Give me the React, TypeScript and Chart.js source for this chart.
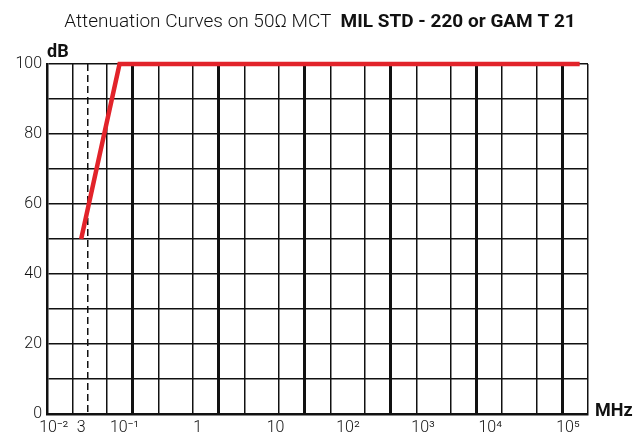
import React, { useEffect, useRef } from 'react';
import { Chart, registerables } from 'chart.js';

Chart.register(...registerables);

// ---- data ----
const curveFreqMHz = [0.025, 0.07, 16000];
const curveDb = [50, 100, 100];

const gridFreqMHz = [
  0.01, 0.02, 0.03, 0.05, 0.1, 0.2, 0.5, 1, 2, 5, 10, 20, 50, 100, 200, 500,
  1000, 2000, 5000, 10000, 20000,
];
const dashedFreqMHz = 0.03;

const xTickLabels = ['10⁻²', '3', '10⁻¹', '1', '10', '10²', '10³', '10⁴', '10⁵'];
const xTickLabelFreqMHz = [0.012, 0.025, 0.08, 0.57, 4.6, 32, 240, 1450, 11700];

const yMin = 0;
const yMax = 100;
const yGridStep = 10;
const yLabelStep = 20;

const titleLight = 'Attenuation Curves on 50Ω MCT';
const titleBold = 'MIL STD - 220 or GAM T 21';
const yUnit = 'dB';
const xUnit = 'MHz';

// ---- styles ----
const FONT = "Roboto, 'Liberation Sans', sans-serif";
const RED = '#e2232a';
const INK = '#111111';

const isDecade = (v?: number) => {
  if (v === undefined || v === null || v < 0.1 || v > 10000) return false;
  const l = Math.log10(v);
  return Math.abs(l - Math.round(l)) < 1e-9;
};
const isDashed = (v?: number) =>
  v !== undefined && v !== null && Math.abs(v - dashedFreqMHz) < 1e-9;

const textPlugin = {
  id: 'textPlugin',
  afterDraw(chart: any) {
    const { ctx, chartArea, width } = chart;
    ctx.save();
    ctx.fillStyle = INK;
    ctx.textBaseline = 'alphabetic';
    // title with mixed weights
    const fLight = `300 19px ${FONT}`;
    const fBold = `700 19px ${FONT}`;
    ctx.font = fLight;
    const w1 = ctx.measureText(titleLight + '  ').width;
    ctx.font = fBold;
    const w2 = ctx.measureText(titleBold).width;
    const x0 = width / 2 - (w1 + w2) / 2 + 2;
    ctx.textAlign = 'left';
    ctx.font = fLight;
    ctx.fillText(titleLight, x0, 27);
    ctx.font = fBold;
    ctx.fillText(titleBold, x0 + w1, 27);
    // units
    ctx.font = `700 18px ${FONT}`;
    ctx.fillText(yUnit, chartArea.left, chartArea.top - 7);
    ctx.fillText(xUnit, chartArea.right + 7, chartArea.bottom + 2);
    ctx.restore();
  },
};

export default function App() {
  const ref = useRef<HTMLCanvasElement>(null);
  useEffect(() => {
    const canvas = ref.current!;
    const chart = new Chart(canvas, {
      type: 'line',
      data: {
        datasets: [
          {
            data: curveFreqMHz.map((x, i) => ({ x, y: curveDb[i] })),
            borderColor: RED,
            backgroundColor: RED,
            borderWidth: 4.5,
            pointRadius: 0,
            tension: 0,
            clip: false as any,
            xAxisID: 'x',
            yAxisID: 'y',
          },
        ],
      },
      options: {
        responsive: false,
        animation: false,
        layout: { padding: { top: 64, right: 48, left: 0, bottom: 0 } },
        plugins: {
          legend: { display: false },
          tooltip: { enabled: false },
          title: { display: false },
        },
        scales: {
          x: {
            type: 'logarithmic',
            min: gridFreqMHz[0],
            max: gridFreqMHz[gridFreqMHz.length - 1],
            position: 'bottom',
            afterBuildTicks: (s: any) => {
              s.ticks = gridFreqMHz.map((v) => ({ value: v }));
            },
            afterFit: (s: any) => {
              s.height = 0;
            },
            ticks: { display: false },
            grid: {
              drawTicks: false,
              color: INK,
              lineWidth: (c: any) => (isDecade(c.tick?.value) ? 3 : 1.5),
            },
            border: {
              display: true,
              color: INK,
              width: 2.5,
              dash: (c: any) => (c.tick && isDashed(c.tick.value) ? [7, 4] : []),
            },
          },
          x2: {
            type: 'logarithmic',
            min: gridFreqMHz[0],
            max: gridFreqMHz[gridFreqMHz.length - 1],
            position: 'bottom',
            grid: { display: false, drawTicks: false },
            border: { display: false },
            afterBuildTicks: (s: any) => {
              s.ticks = xTickLabelFreqMHz.map((v) => ({ value: v }));
            },
            afterFit: (s: any) => {
              s.height = 23;
            },
            ticks: {
              autoSkip: false,
              maxRotation: 0,
              minRotation: 0,
              padding: 4,
              color: INK,
              font: { family: FONT, size: 16, weight: '300' },
              callback: (_v: any, i: number) => xTickLabels[i],
            },
          },
          y: {
            min: yMin,
            max: yMax,
            afterFit: (s: any) => {
              s.width = 47;
            },
            ticks: {
              stepSize: yGridStep,
              padding: 5,
              color: INK,
              font: { family: FONT, size: 16, weight: '300' },
              callback: (v: any) => (Number(v) % yLabelStep === 0 ? String(v) : ''),
            },
            grid: { drawTicks: false, color: INK, lineWidth: 1.5 },
            border: { color: INK, width: 2.5 },
          },
        },
      } as any,
      plugins: [textPlugin],
    });
    return () => chart.destroy();
  }, []);
  return (
    <div
      style={{
        position: 'fixed',
        left: 0,
        top: 0,
        width: 636,
        height: 437,
        background: '#fff',
      }}
    >
      <canvas ref={ref} width={636} height={437} style={{ display: 'block' }} />
    </div>
  );
}
